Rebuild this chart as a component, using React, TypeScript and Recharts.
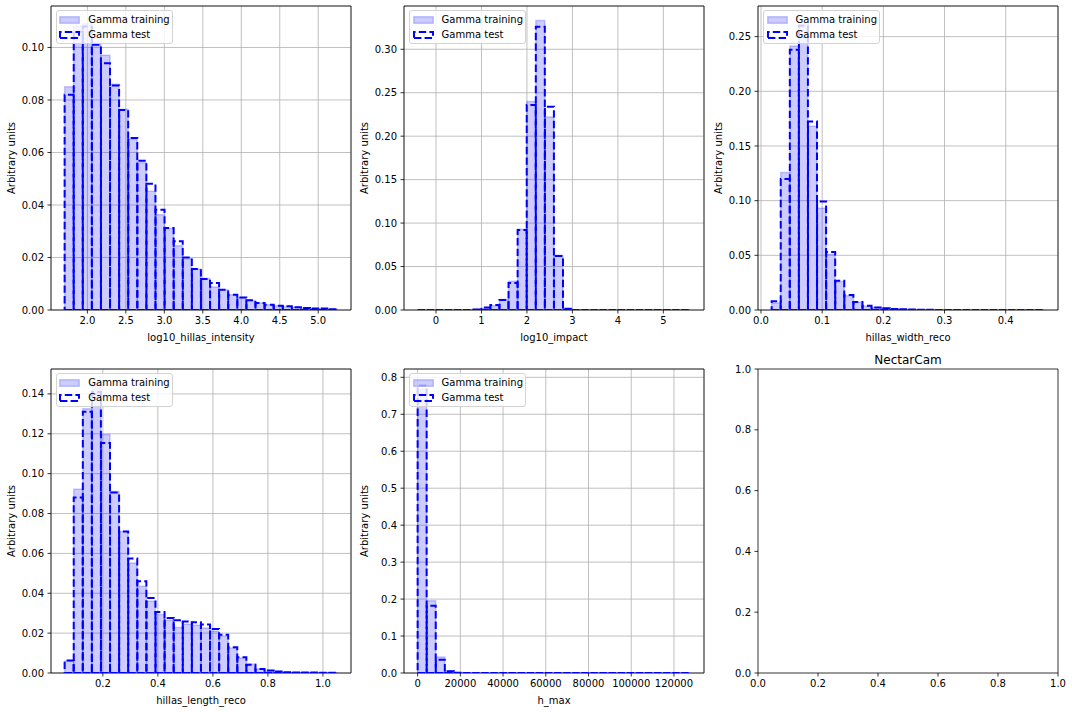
import React from 'react';
import { ComposedChart, Bar, XAxis, YAxis, CartesianGrid, Legend, ReferenceArea } from 'recharts';

const FONT = '"DejaVu Sans", sans-serif';
const PLOT_W = 300;
const PLOT_H = 304;
const Y_AXIS_W = 51;
const X_AXIS_H = 36;
const MARGIN = { top: 20, right: 15, bottom: 0, left: 0 };
const BLUE = '#0000ff';

// log10_hillas_intensity
const intensityRange = [1.704, 5.249];
const intensityTrain = [0.085, 0.108, 0.109, 0.102, 0.097, 0.086, 0.0765, 0.065, 0.0561, 0.0452, 0.0363, 0.031, 0.0245, 0.0195, 0.0156, 0.012, 0.0088, 0.0077, 0.0058, 0.0047, 0.0036, 0.0027, 0.002, 0.0016, 0.0013, 0.001, 0.0008, 0.0006, 0.0005, 0.0003];
const intensityTest = [0.082, 0.106, 0.108, 0.101, 0.094, 0.0855, 0.0762, 0.0655, 0.0569, 0.0481, 0.0382, 0.0312, 0.0262, 0.02, 0.0156, 0.0118, 0.0103, 0.0077, 0.0058, 0.0048, 0.0037, 0.0027, 0.002, 0.0016, 0.0014, 0.001, 0.0008, 0.0006, 0.0006, 0.0003];
const intensityXTicks = [2, 2.5, 3, 3.5, 4, 4.5, 5];
const intensityYTicks = [0, 0.02, 0.04, 0.06, 0.08, 0.1];

// log10_impact
const impactRange = [-0.404, 5.594];
const impactTrain = [0, 0, 0, 0, 0, 0, 0.0005, 0.002, 0.005, 0.012, 0.033, 0.093, 0.24, 0.333, 0.222, 0.063, 0.0015, 0, 0, 0, 0, 0, 0, 0, 0, 0, 0, 0, 0, 0];
const impactTest = [0, 0, 0, 0, 0, 0, 0.0005, 0.003, 0.0057, 0.0115, 0.031, 0.092, 0.236, 0.326, 0.234, 0.062, 0.0015, 0, 0, 0, 0, 0, 0, 0, 0, 0, 0, 0, 0, 0];
const impactXTicks = [0, 1, 2, 3, 4, 5];
const impactYTicks = [0, 0.05, 0.1, 0.15, 0.2, 0.25, 0.3];

// hillas_width_reco
const widthRange = [0.0174, 0.4632];
const widthTrain = [0.0065, 0.1258, 0.2415, 0.2615, 0.168, 0.093, 0.051, 0.026, 0.013, 0.0072, 0.0035, 0.0024, 0.0015, 0.001, 0.0006, 0.0004, 0.0003, 0.0002, 0.0001, 0.0001, 0, 0, 0, 0, 0, 0, 0, 0, 0, 0];
const widthTest = [0.008, 0.1197, 0.238, 0.26, 0.1724, 0.0993, 0.053, 0.0268, 0.0137, 0.0073, 0.004, 0.0024, 0.0015, 0.001, 0.0006, 0.0004, 0.0003, 0.0002, 0.0001, 0.0001, 0, 0, 0, 0, 0, 0, 0, 0, 0, 0];
const widthXTicks = [0, 0.1, 0.2, 0.3, 0.4];
const widthYTicks = [0, 0.05, 0.1, 0.15, 0.2, 0.25];

// hillas_length_reco
const lengthRange = [0.0611, 1.0524];
const lengthTrain = [0.006, 0.0922, 0.1325, 0.145, 0.1196, 0.091, 0.071, 0.0552, 0.0435, 0.036, 0.0293, 0.0265, 0.0228, 0.0245, 0.024, 0.0226, 0.021, 0.0185, 0.0125, 0.0075, 0.0045, 0.002, 0.0012, 0.0007, 0.0004, 0.0003, 0.0002, 0.0002, 0.0001, 0.0001];
const lengthTest = [0.0063, 0.0881, 0.131, 0.141, 0.1154, 0.0905, 0.071, 0.0574, 0.046, 0.0376, 0.0306, 0.0276, 0.0265, 0.0258, 0.0254, 0.0243, 0.0221, 0.0192, 0.0129, 0.0079, 0.0042, 0.002, 0.0012, 0.0007, 0.0004, 0.0003, 0.0002, 0.0002, 0.0001, 0.0001];
const lengthXTicks = [0.2, 0.4, 0.6, 0.8, 1.0];
const lengthYTicks = [0, 0.02, 0.04, 0.06, 0.08, 0.1, 0.12, 0.14];

// h_max
const hmaxRange = [0, 127680];
const hmaxTrain = [0.768, 0.1956, 0.0433, 0.006, 0.0005, 0, 0, 0, 0, 0, 0, 0, 0, 0, 0, 0, 0, 0, 0, 0, 0, 0, 0, 0, 0, 0, 0, 0, 0, 0];
const hmaxTest = [0.778, 0.182, 0.036, 0.005, 0.0004, 0, 0, 0, 0, 0, 0, 0, 0, 0, 0, 0, 0, 0, 0, 0, 0, 0, 0, 0, 0, 0, 0, 0, 0, 0];
const hmaxXTicks = [0, 20000, 40000, 60000, 80000, 100000, 120000];
const hmaxYTicks = [0, 0.1, 0.2, 0.3, 0.4, 0.5, 0.6, 0.7, 0.8];

// empty NectarCam axes
const unitTicks = [0, 0.2, 0.4, 0.6, 0.8, 1.0];

const seriesOrder = ['train', 'test'];
const seriesNames = { train: 'Gamma training', test: 'Gamma test' };

const binTable = (range: number[], train: number[], test: number[]) => {
  const w = (range[1] - range[0]) / train.length;
  return train.map((v, i) => ({ x: +(range[0] + (i + 0.5) * w).toFixed(6), train: v, test: test[i] }));
};

// matplotlib pads the data range by 5% on each side
const paddedDomain = (range: number[]) => {
  const w = range[1] - range[0];
  return [range[0] - 0.05 * w, range[1] + 0.05 * w];
};
const BAR_PAD = (PLOT_W * 0.05) / 1.1;

const barPath = (p: any) => {
  const top = Math.min(p.y, p.y + p.height);
  const bottom = Math.max(p.y, p.y + p.height);
  return `M${p.x},${bottom}H${p.x + p.width}V${top}H${p.x}Z`;
};

const TrainShape = (p: any) =>
  p.x == null ? null : (
    <path d={barPath(p)} fill={BLUE} fillOpacity={0.2} stroke={BLUE} strokeOpacity={0.2} strokeWidth={1.5} />
  );

const TestShape = (p: any) =>
  p.x == null ? null : (
    <path d={barPath(p)} fill="none" stroke={BLUE} strokeWidth={2} strokeDasharray="7.4 3.2" />
  );

const HistLegend = (props: any) => {
  const items = (props.payload || [])
    .filter((e: any) => seriesOrder.includes(e.dataKey))
    .sort((a: any, b: any) => seriesOrder.indexOf(a.dataKey) - seriesOrder.indexOf(b.dataKey));
  return (
    <div
      style={{
        boxSizing: 'border-box',
        width: 117,
        height: 34,
        padding: '1px 0 0 2.3px',
        border: '1px solid #d3d3d3',
        borderRadius: 3,
        background: 'rgba(255,255,255,0.8)',
        fontFamily: FONT,
        fontSize: 10,
        color: '#000',
      }}
    >
      {items.map((e: any) => (
        <div key={e.dataKey} style={{ display: 'flex', alignItems: 'center', height: 15 }}>
          <svg width={21} height={8} style={{ display: 'block' }}>
            {e.dataKey === 'train' ? (
              <rect x={0.75} y={0.75} width={19.5} height={6.5} fill={BLUE} fillOpacity={0.2} stroke={BLUE} strokeOpacity={0.2} strokeWidth={1.5} />
            ) : (
              <path d="M1,7H20V1H1Z" fill="none" stroke={BLUE} strokeWidth={2} strokeDasharray="7.4 3.2" />
            )}
          </svg>
          <span style={{ marginLeft: 8, whiteSpace: 'nowrap' }}>{e.value}</span>
        </div>
      ))}
    </div>
  );
};

const xLabel = (text: string) => (props: any) => {
  const vb = props.viewBox || {};
  return (
    <text x={vb.x + vb.width / 2} y={vb.y + 27} textAnchor="middle" dominantBaseline="central" fontSize={10} fontFamily={FONT} fill="#000">
      {text}
    </text>
  );
};

const yLabel = (text: string) => (props: any) => {
  const vb = props.viewBox || {};
  const cx = vb.x + 11;
  const cy = vb.y + vb.height / 2;
  return (
    <text x={cx} y={cy} transform={`rotate(-90 ${cx} ${cy})`} textAnchor="middle" dominantBaseline="central" fontSize={10} fontFamily={FONT} fill="#000">
      {text}
    </text>
  );
};

const titleLabel = (text: string) => (props: any) => {
  const vb = props.viewBox || {};
  return (
    <text x={vb.x + vb.width / 2} y={vb.y - 9.5} textAnchor="middle" dominantBaseline="central" fontSize={12} fontFamily={FONT} fill="#000">
      {text}
    </text>
  );
};

const tickStyle = { fontSize: 10, fill: '#000', fontFamily: FONT };
const tickLineStyle = { stroke: '#000', strokeWidth: 0.8 };

const CHART_W = Y_AXIS_W + PLOT_W + MARGIN.right;
const CHART_H = MARGIN.top + PLOT_H + X_AXIS_H;

function HistPanel({ cfg }: { cfg: any }) {
  const data = binTable(cfg.range, cfg.train, cfg.test);
  return (
    <ComposedChart
      width={CHART_W}
      height={CHART_H}
      data={data}
      margin={MARGIN}
      barCategoryGap={0}
      barGap={0}
      style={{ fontFamily: FONT }}
    >
      <CartesianGrid xAxisId="num" yAxisId="y" stroke="#b0b0b0" strokeWidth={0.8} />
      <XAxis xAxisId="a" type="category" dataKey="x" hide height={0} padding={{ left: BAR_PAD, right: BAR_PAD }} />
      <XAxis xAxisId="b" type="category" dataKey="x" hide height={0} padding={{ left: BAR_PAD, right: BAR_PAD }} />
      <XAxis
        xAxisId="num"
        type="number"
        dataKey="x"
        domain={paddedDomain(cfg.range)}
        allowDataOverflow
        ticks={cfg.xTicks}
        interval={0}
        tickFormatter={cfg.xFmt}
        height={X_AXIS_H}
        axisLine={false}
        tickLine={tickLineStyle}
        tickSize={3.5}
        tickMargin={3.5}
        tick={tickStyle}
        label={xLabel(cfg.label)}
      />
      <YAxis
        yAxisId="y"
        type="number"
        domain={[0, cfg.yMax]}
        allowDataOverflow
        ticks={cfg.yTicks}
        interval={0}
        tickFormatter={cfg.yFmt}
        width={Y_AXIS_W}
        axisLine={false}
        tickLine={tickLineStyle}
        tickSize={3.5}
        tickMargin={3.5}
        tick={tickStyle}
        label={yLabel('Arbitrary units')}
      />
      <Bar xAxisId="a" yAxisId="y" dataKey="train" name={seriesNames.train} shape={TrainShape} isAnimationActive={false} />
      <Bar xAxisId="b" yAxisId="y" dataKey="test" name={seriesNames.test} shape={TestShape} isAnimationActive={false} />
      <ReferenceArea xAxisId="num" yAxisId="y" y1={0} y2={cfg.yMax} fill="none" stroke="#000" strokeWidth={0.8} ifOverflow="visible" />
      <Legend
        layout="vertical"
        align="center"
        verticalAlign="middle"
        wrapperStyle={{ left: Y_AXIS_W + 5, top: MARGIN.top + 4, width: 117, height: 34 }}
        content={HistLegend}
      />
    </ComposedChart>
  );
}

function EmptyPanel({ title }: { title: string }) {
  const fmt = (v: number) => v.toFixed(1);
  const data = unitTicks.map((v) => ({ x: v }));
  return (
    <ComposedChart width={CHART_W} height={CHART_H} data={data} margin={MARGIN} style={{ fontFamily: FONT }}>
      <XAxis
        xAxisId="num"
        type="number"
        dataKey="x"
        domain={[0, 1]}
        allowDataOverflow
        ticks={unitTicks}
        interval={0}
        tickFormatter={fmt}
        height={X_AXIS_H}
        axisLine={false}
        tickLine={tickLineStyle}
        tickSize={3.5}
        tickMargin={3.5}
        tick={tickStyle}
      />
      <YAxis
        yAxisId="y"
        type="number"
        domain={[0, 1]}
        allowDataOverflow
        ticks={unitTicks}
        interval={0}
        tickFormatter={fmt}
        width={Y_AXIS_W}
        axisLine={false}
        tickLine={tickLineStyle}
        tickSize={3.5}
        tickMargin={3.5}
        tick={tickStyle}
      />
      <ReferenceArea xAxisId="num" yAxisId="y" y1={0} y2={1} fill="none" stroke="#000" strokeWidth={0.8} ifOverflow="visible" label={titleLabel(title)} />
    </ComposedChart>
  );
}

const f1 = (v: number) => v.toFixed(1);
const f2 = (v: number) => v.toFixed(2);

// plot-area top-left corners on the page
const COL_X = [51, 404.3, 758.3];
const ROW_Y = [6, 369.3];

const panels = [
  { label: 'log10_hillas_intensity', range: intensityRange, train: intensityTrain, test: intensityTest, xTicks: intensityXTicks, yTicks: intensityYTicks, yMax: 0.1158, xFmt: f1, yFmt: f2, col: 0, row: 0 },
  { label: 'log10_impact', range: impactRange, train: impactTrain, test: impactTest, xTicks: impactXTicks, yTicks: impactYTicks, yMax: 0.3498, xFmt: (v: number) => String(v), yFmt: f2, col: 1, row: 0 },
  { label: 'hillas_width_reco', range: widthRange, train: widthTrain, test: widthTest, xTicks: widthXTicks, yTicks: widthYTicks, yMax: 0.278, xFmt: f1, yFmt: f2, col: 2, row: 0 },
  { label: 'hillas_length_reco', range: lengthRange, train: lengthTrain, test: lengthTest, xTicks: lengthXTicks, yTicks: lengthYTicks, yMax: 0.1525, xFmt: f1, yFmt: f2, col: 0, row: 1 },
  { label: 'h_max', range: hmaxRange, train: hmaxTrain, test: hmaxTest, xTicks: hmaxXTicks, yTicks: hmaxYTicks, yMax: 0.8225, xFmt: (v: number) => String(v), yFmt: f1, col: 1, row: 1 },
];

const cellStyle = (col: number, row: number): React.CSSProperties => ({
  position: 'absolute',
  left: COL_X[col] - Y_AXIS_W - MARGIN.left,
  top: ROW_Y[row] - MARGIN.top,
});

export default function App() {
  return (
    <div style={{ position: 'absolute', left: 0, top: 0, width: 1072, height: 712, background: '#fff', overflow: 'hidden' }}>
      {panels.map((cfg) => (
        <div key={cfg.label} style={cellStyle(cfg.col, cfg.row)}>
          <HistPanel cfg={cfg} />
        </div>
      ))}
      <div style={cellStyle(2, 1)}>
        <EmptyPanel title="NectarCam" />
      </div>
    </div>
  );
}
